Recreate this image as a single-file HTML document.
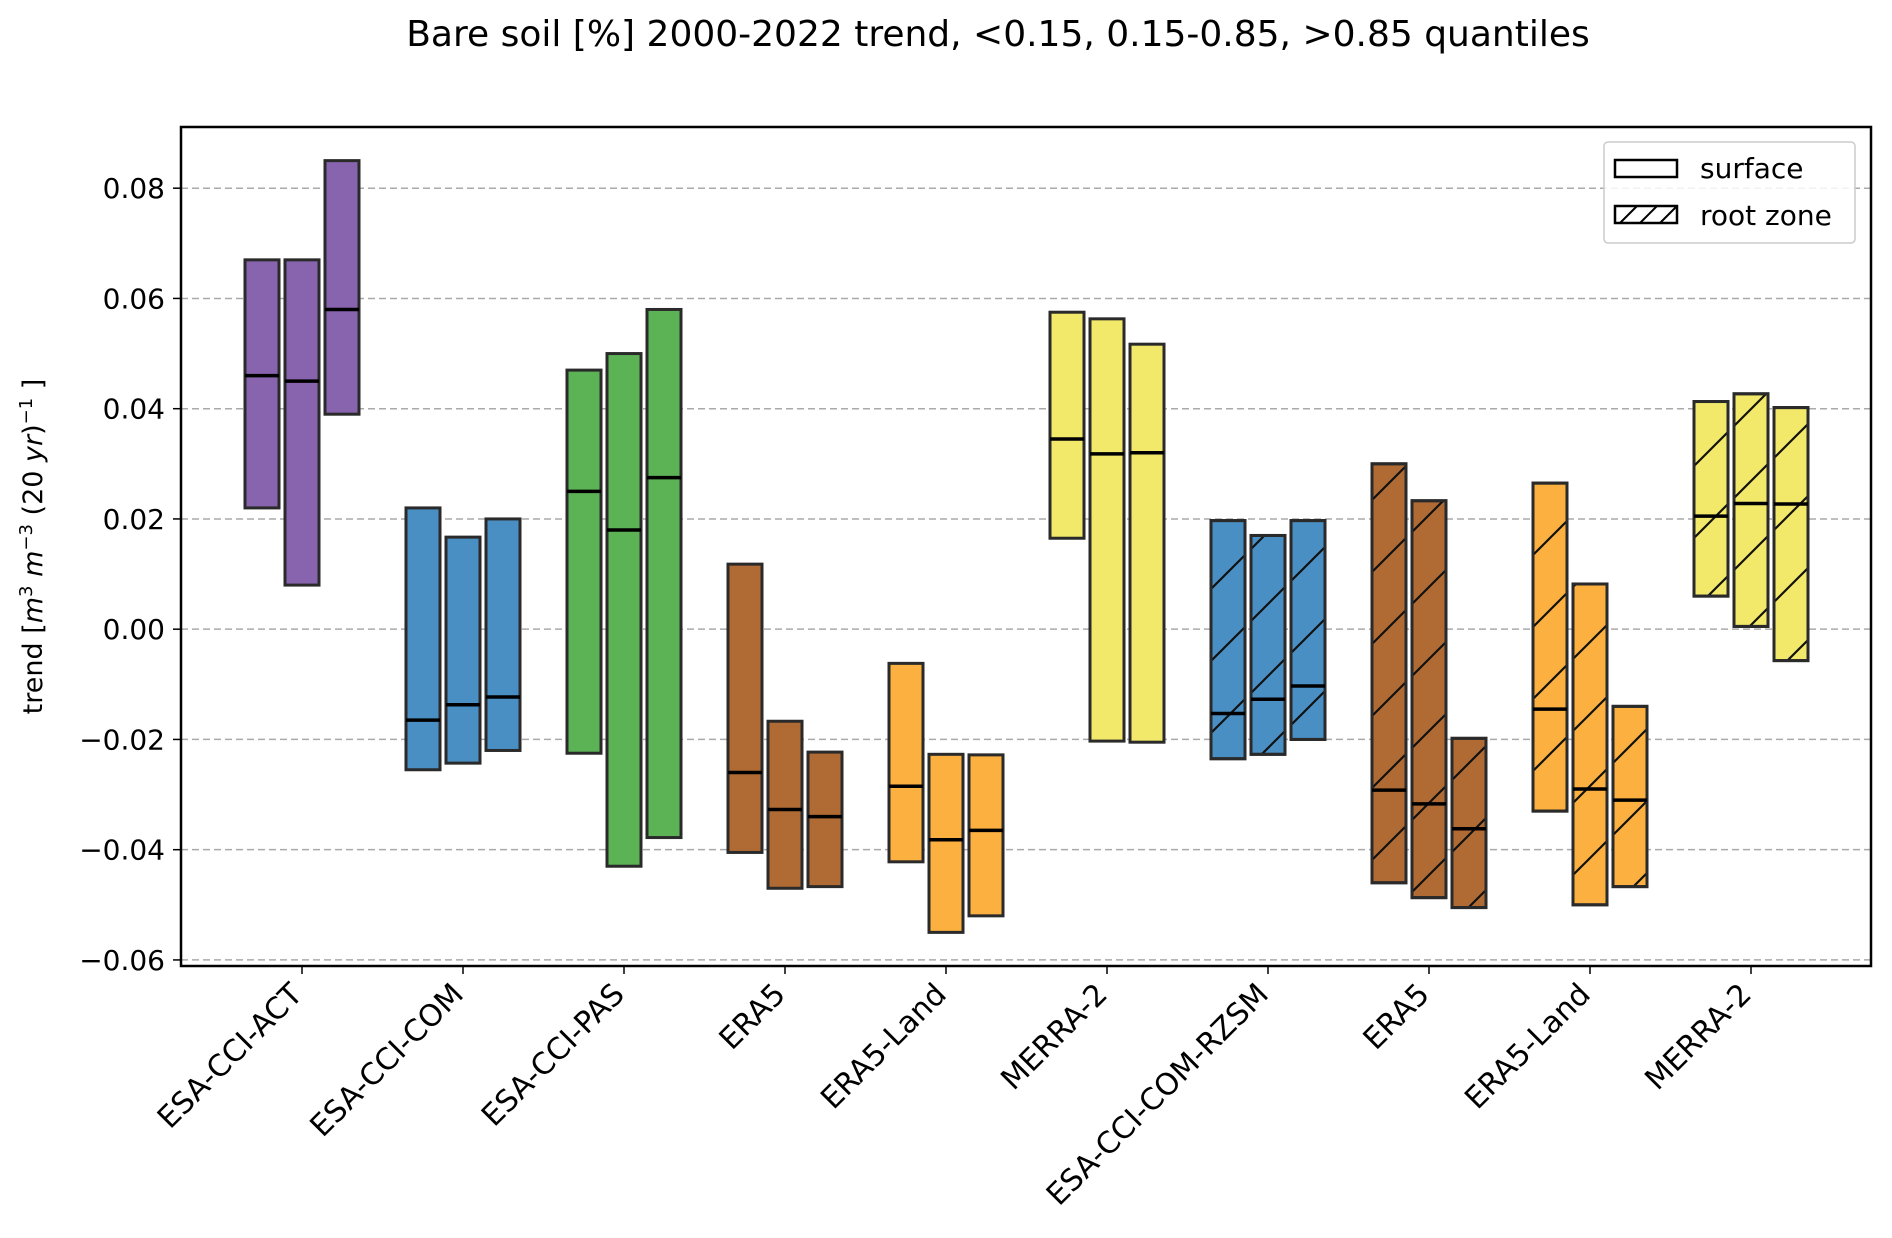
<!DOCTYPE html>
<html><head><meta charset="utf-8"><style>
html,body{margin:0;padding:0;background:#fff;}
svg{display:block;font-family:"DejaVu Sans","Liberation Sans",sans-serif;}
</style></head><body>
<svg id="chart" width="1892" height="1238" viewBox="0 0 1892 1238" xmlns="http://www.w3.org/2000/svg">
<defs>
<pattern id="hatch" patternUnits="userSpaceOnUse" width="72" height="72">
<path d="M-18,18 L18,-18 M-18,90 L90,-18 M54,90 L90,54" stroke="#111" stroke-width="2.2"/>
</pattern>
</defs>
<text x="998" y="46" font-size="36" text-anchor="middle">Bare soil [%] 2000-2022 trend, &lt;0.15, 0.15-0.85, &gt;0.85 quantiles</text>
<g id="grid"></g><g id="bars"></g><g id="axes"></g>
</svg>
<script>
const categories=["ESA-CCI-ACT","ESA-CCI-COM","ESA-CCI-PAS","ERA5","ERA5-Land","MERRA-2","ESA-CCI-COM-RZSM","ERA5","ERA5-Land","MERRA-2"];
const lowQ=[[0.022,0.008,0.039],[-0.0255,-0.0243,-0.022],[-0.0225,-0.043,-0.0378],[-0.0405,-0.047,-0.0467],[-0.0422,-0.055,-0.052],[0.0165,-0.0203,-0.0205],[-0.0235,-0.0227,-0.020],[-0.046,-0.0487,-0.0505],[-0.033,-0.050,-0.0467],[0.006,0.0005,-0.0057]];
const midQ=[[0.046,0.045,0.058],[-0.0165,-0.0137,-0.0123],[0.025,0.018,0.0275],[-0.026,-0.0327,-0.034],[-0.0285,-0.0382,-0.0365],[0.0345,0.0318,0.032],[-0.0153,-0.0127,-0.0103],[-0.0292,-0.0317,-0.0362],[-0.0145,-0.029,-0.031],[0.0205,0.0228,0.0227]];
const highQ=[[0.067,0.067,0.085],[0.022,0.0167,0.020],[0.047,0.050,0.058],[0.0118,-0.0167,-0.0223],[-0.0062,-0.0227,-0.0228],[0.0575,0.0563,0.0517],[0.0197,0.0170,0.0197],[0.030,0.0233,-0.0198],[0.0265,0.0082,-0.014],[0.0413,0.0427,0.0402]];
const colors=["#8764ad","#4a8fc4","#5bb356","#b06a33","#fbb040","#f2e96a","#4a8fc4","#b06a33","#fbb040","#f2e96a"];
const hatched=[false,false,false,false,false,false,true,true,true,true];
const yTicks=[-0.06,-0.04,-0.02,0.00,0.02,0.04,0.06,0.08];
const yTickLabels=["\u22120.06","\u22120.04","\u22120.02","0.00","0.02","0.04","0.06","0.08"];

const L=181,R=1871,T=127,B=966,yMin=-0.0611,yMax=0.0911;
const NS="http://www.w3.org/2000/svg";
function y(v){return B-(v-yMin)/(yMax-yMin)*(B-T);}
function x(i){return 302+i*161;}
function mk(tag,attrs,parent){const e=document.createElementNS(NS,tag);for(const k in attrs)e.setAttribute(k,attrs[k]);parent.appendChild(e);return e;}
const grid=document.getElementById('grid'),bars=document.getElementById('bars'),axes=document.getElementById('axes');
yTicks.forEach((t,i)=>{
  const g=mk('line',{x1:L,x2:R,y1:y(t),y2:y(t),stroke:'#aaa','stroke-width':1.5,'stroke-dasharray':'7,4'},grid);
  
  
  const tk=mk('line',{x1:L-8,x2:L,y1:y(t),y2:y(t),stroke:'#000','stroke-width':1.5},axes);
  
  
  const tl=mk('text',{x:L-16,y:y(t)+10,'font-size':28,'text-anchor':'end'},axes);
  tl.textContent=yTickLabels[i];
  
  
});
const bw=34,off=40;
categories.forEach((c,i)=>{
  for(let j=0;j<3;j++){
    const cx=x(i)+(j-1)*off;
    const y1=y(highQ[i][j]),y2=y(lowQ[i][j]);
    const r=mk('rect',{x:cx-bw/2,y:y1,width:bw,height:y2-y1,fill:colors[i],stroke:'#2a2a2a','stroke-width':3},bars);
    
    
    if(hatched[i]){
      const h=mk('rect',{x:cx-bw/2,y:y1,width:bw,height:y2-y1,fill:'url(#hatch)',stroke:'#2a2a2a','stroke-width':3},bars);
      
      
    }
    const m=mk('line',{x1:cx-bw/2,x2:cx+bw/2,y1:y(midQ[i][j]),y2:y(midQ[i][j]),stroke:'#000','stroke-width':3.5},bars);
    
    
  }
  const tk=mk('line',{x1:x(i),x2:x(i),y1:B,y2:B+8,stroke:'#000','stroke-width':1.5},axes);
  
  
  const ax=x(i)+2,ay=B+30;
  const tl=mk('text',{x:ax,y:ay,'font-size':30,'text-anchor':'end',transform:'rotate(-45 '+ax+' '+ay+')'},axes);
  tl.textContent=c;
  
  
});
const fr=mk('rect',{x:L,y:T,width:R-L,height:B-T,fill:'none',stroke:'#000','stroke-width':2.5},axes);


const yl=mk('text',{x:0,y:0,'font-size':27,'text-anchor':'middle',transform:'translate(42 '+((T+B)/2)+') rotate(-90)'},axes);
yl.innerHTML='trend [<tspan font-style="italic">m</tspan><tspan font-size="18" dy="-10">3</tspan><tspan dy="10"> </tspan><tspan font-style="italic">m</tspan><tspan font-size="18" dy="-10">\u22123</tspan><tspan dy="10"> (20 </tspan><tspan font-style="italic">yr</tspan>)<tspan font-size="18" dy="-10">\u22121</tspan><tspan dy="10"> ]</tspan>';


const lg=mk('g',{},axes);


mk('rect',{x:1604,y:142,width:251,height:101,rx:4,fill:'#fff','fill-opacity':0.85,stroke:'#ccc','stroke-width':1.5},lg);
const e1=mk('rect',{x:1615,y:160,width:62,height:17,fill:'#fff',stroke:'#000','stroke-width':2.5},lg);


const t1=mk('text',{x:1700,y:178,'font-size':28},lg);t1.textContent='surface';


const e2=mk('rect',{x:1615,y:206,width:62,height:17,fill:'#fff',stroke:'#000','stroke-width':2.5},lg);


mk('path',{d:'M1620,223 L1637,206 M1640,223 L1657,206 M1660,223 L1677,206',stroke:'#000','stroke-width':2},lg);
const t2=mk('text',{x:1700,y:225,'font-size':28},lg);t2.textContent='root zone';


</script>
</body></html>
